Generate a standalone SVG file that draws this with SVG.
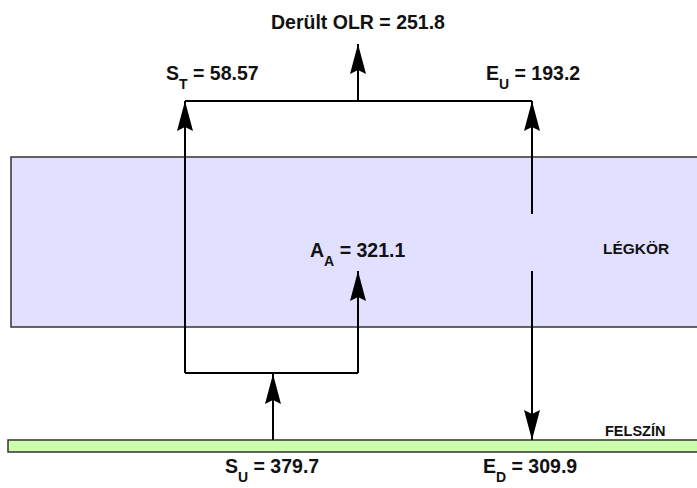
<svg xmlns="http://www.w3.org/2000/svg" width="697" height="488" viewBox="0 0 697 488">
<style>
.lbl{font-family:"Liberation Sans",Arial,sans-serif;font-weight:bold;font-size:19.5px;fill:#111}
.sub{font-size:14px}
.small{font-family:"Liberation Sans",Arial,sans-serif;font-weight:bold;font-size:15.5px;fill:#111}
.conn{fill:none;stroke:#000;stroke-width:2}
.arr{fill:none;stroke:#000;stroke-width:2;marker-end:url(#ah)}
</style>
<defs>
<marker id="ah" viewBox="0 0 30 16" refX="30" refY="8" markerWidth="30" markerHeight="16" markerUnits="userSpaceOnUse" orient="auto">
<path d="M0,0 L30,8 L0,16 L4,8 Z" fill="#000"/>
</marker>
</defs>
<rect width="697" height="488" fill="#fff"/>
<g id="legkor">
<rect x="11" y="157" width="700" height="170" fill="#e2e0ff" stroke="#333" stroke-width="1.5"/>
<text class="small" x="603" y="254">LÉGKÖR</text>
</g>
<g id="felszin">
<rect x="8" y="440" width="700" height="12" fill="#ccffaa" stroke="#333" stroke-width="1.5"/>
<text class="small" x="605" y="436" style="font-size:14.5px">FELSZÍN</text>
</g>
<g id="connectors">
<path class="conn" d="M185,101 H532"/>
<path class="arr" d="M358,101 V44"/>
<path class="arr" d="M185,373 V101"/>
<path class="conn" d="M185,373 H358"/>
<path class="arr" d="M358,373 V271"/>
<path class="arr" d="M273,440 V374"/>
<path class="arr" d="M532,214 V101"/>
<path class="arr" d="M532,271 V440"/>
</g>
<g id="olr"><text class="lbl" x="358" y="29" text-anchor="middle">Derült OLR = 251.8</text></g>
<g id="st"><text class="lbl" x="166" y="80">S<tspan class="sub" dy="9">T</tspan><tspan dy="-9"> = 58.57</tspan></text></g>
<g id="eu"><text class="lbl" x="486" y="80">E<tspan class="sub" dy="9">U</tspan><tspan dy="-9"> = 193.2</tspan></text></g>
<g id="aa"><text class="lbl" x="310" y="257">A<tspan class="sub" dy="9">A</tspan><tspan dy="-9"> = 321.1</tspan></text></g>
<g id="su"><text class="lbl" x="225" y="473">S<tspan class="sub" dy="9">U</tspan><tspan dy="-9"> = 379.7</tspan></text></g>
<g id="ed"><text class="lbl" x="483" y="473">E<tspan class="sub" dy="9">D</tspan><tspan dy="-9"> = 309.9</tspan></text></g>
</svg>
